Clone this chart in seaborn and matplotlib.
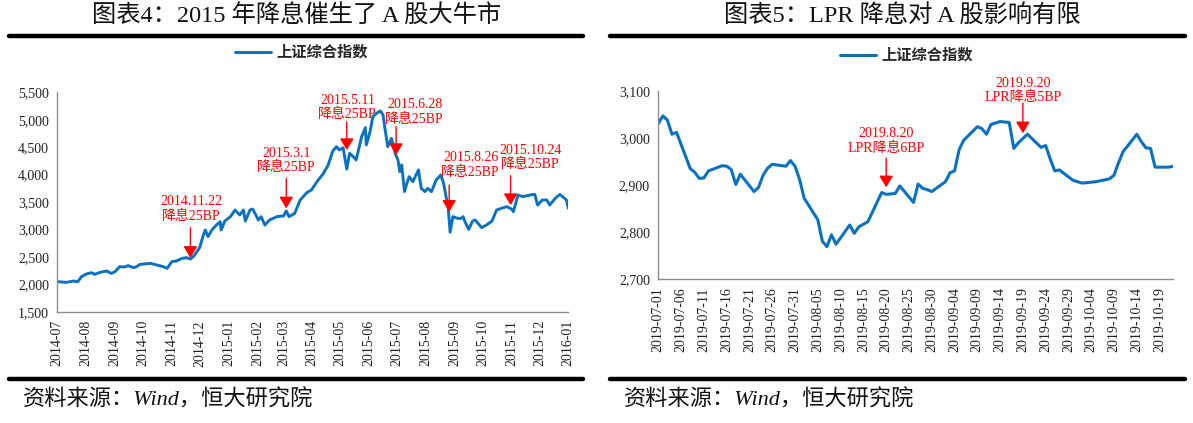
# 上证综指：2015 降息 vs 2019 LPR 降息

import pandas as pd
import matplotlib
matplotlib.use("Agg")
import matplotlib.pyplot as plt
import matplotlib.dates as mdates
import matplotlib.ticker as mticker
from matplotlib.lines import Line2D
import seaborn as sns

sns.set_style("white")
plt.rcParams["font.family"] = ["Liberation Serif", "Noto Sans CJK SC"]
plt.rcParams["axes.unicode_minus"] = False

# -----------------------------
# data
# -----------------------------
sh_2015_dates = [
    "2014-07-01", "2014-07-11", "2014-07-18", "2014-07-23", "2014-07-27", "2014-08-01",
    "2014-08-07", "2014-08-10", "2014-08-16", "2014-08-23", "2014-08-28", "2014-09-01",
    "2014-09-06", "2014-09-11", "2014-09-15", "2014-09-21", "2014-09-24", "2014-09-28",
    "2014-10-09", "2014-10-16", "2014-10-23", "2014-10-27", "2014-11-01", "2014-11-06",
    "2014-11-12", "2014-11-17", "2014-11-21", "2014-11-24", "2014-11-28", "2014-12-01",
    "2014-12-05", "2014-12-07", "2014-12-10", "2014-12-14", "2014-12-19", "2014-12-23",
    "2014-12-24", "2014-12-28", "2015-01-03", "2015-01-08", "2015-01-13", "2015-01-17",
    "2015-01-19", "2015-01-24", "2015-01-27", "2015-02-02", "2015-02-05", "2015-02-09",
    "2015-02-14", "2015-02-22", "2015-03-01", "2015-03-04", "2015-03-07", "2015-03-13",
    "2015-03-19", "2015-03-26", "2015-03-31", "2015-04-06", "2015-04-13", "2015-04-18",
    "2015-04-23", "2015-04-27", "2015-04-30", "2015-05-04", "2015-05-08", "2015-05-11",
    "2015-05-15", "2015-05-18", "2015-05-24", "2015-05-28", "2015-05-29", "2015-06-02",
    "2015-06-05", "2015-06-09", "2015-06-13", "2015-06-16", "2015-06-18", "2015-06-21",
    "2015-06-25", "2015-06-29", "2015-07-02", "2015-07-04", "2015-07-06", "2015-07-09",
    "2015-07-11", "2015-07-14", "2015-07-18", "2015-07-24", "2015-07-27", "2015-07-31",
    "2015-08-03", "2015-08-07", "2015-08-12", "2015-08-17", "2015-08-20", "2015-08-25",
    "2015-08-27", "2015-08-30", "2015-09-04", "2015-09-08", "2015-09-10", "2015-09-12",
    "2015-09-16", "2015-09-20", "2015-09-23", "2015-09-26", "2015-09-30", "2015-10-05",
    "2015-10-11", "2015-10-16", "2015-10-21", "2015-10-27", "2015-11-01", "2015-11-03",
    "2015-11-08", "2015-11-13", "2015-11-21", "2015-11-26", "2015-11-29", "2015-12-04",
    "2015-12-09", "2015-12-12", "2015-12-18", "2015-12-23", "2015-12-28", "2015-12-30",
    "2016-01-01",
]
sh_2015_close = [
    2047, 2035, 2059, 2047, 2138, 2187,
    2211, 2181, 2217, 2242, 2199, 2230,
    2321, 2315, 2339, 2302, 2321, 2363,
    2381, 2351, 2321, 2290, 2412, 2424,
    2473, 2485, 2460, 2503, 2594, 2670,
    2900, 2989, 2868, 2989, 3080, 3141,
    2989, 3153, 3233, 3354, 3263, 3354,
    3153, 3354, 3372, 3172, 3233, 3080,
    3172, 3233, 3245, 3336, 3233, 3293,
    3537, 3670, 3719, 3871, 4023, 4175,
    4430, 4509, 4448, 4490, 4100, 4387,
    4327, 4266, 4691, 4856, 4540, 4783,
    5056, 5117, 5160, 5087, 4843, 4509,
    4661, 4387, 4266, 4053, 4175, 3689,
    3810, 3962, 3871, 4084, 3749, 3689,
    3749, 3689, 3901, 3992, 3840, 3384,
    2950, 3233, 3202, 3202, 3233, 3141,
    3000, 3150, 3172, 3111, 3032, 3080,
    3153, 3354, 3384, 3415, 3372, 3324,
    3628, 3597, 3628, 3640, 3445, 3536,
    3536, 3445, 3567, 3640, 3567, 3536,
    3384,
]

# 2015 rate cuts: arrow date, arrow tip value, label
cut_2015_dates = ["2014-11-21", "2015-03-04", "2015-05-08", "2015-06-30", "2015-08-26", "2015-10-31"]
cut_2015_tips = [2481, 3383, 4447, 4356, 3321, 3443]
cut_2015_labels = ["2014.11.22\n降息25BP", "2015.3.1\n降息25BP", "2015.5.11\n降息25BP",
                   "2015.6.28\n降息25BP", "2015.8.26\n降息25BP", "2015.10.24\n降息25BP"]

lpr_dates = [
    "2019-07-01", "2019-07-02", "2019-07-03", "2019-07-04", "2019-07-05", "2019-07-08",
    "2019-07-09", "2019-07-10", "2019-07-11", "2019-07-12", "2019-07-15", "2019-07-16",
    "2019-07-17", "2019-07-18", "2019-07-19", "2019-07-22", "2019-07-23", "2019-07-24",
    "2019-07-25", "2019-07-26", "2019-07-29", "2019-07-30", "2019-07-31", "2019-08-01",
    "2019-08-02", "2019-08-05", "2019-08-06", "2019-08-07", "2019-08-08", "2019-08-09",
    "2019-08-12", "2019-08-13", "2019-08-14", "2019-08-16", "2019-08-19", "2019-08-20",
    "2019-08-21", "2019-08-22", "2019-08-23", "2019-08-26", "2019-08-27", "2019-08-28",
    "2019-08-29", "2019-08-30", "2019-09-02", "2019-09-03", "2019-09-04", "2019-09-05",
    "2019-09-06", "2019-09-09", "2019-09-10", "2019-09-11", "2019-09-12", "2019-09-14",
    "2019-09-16", "2019-09-17", "2019-09-18", "2019-09-20", "2019-09-23", "2019-09-24",
    "2019-09-25", "2019-09-26", "2019-09-27", "2019-09-30", "2019-10-02", "2019-10-05",
    "2019-10-08", "2019-10-09", "2019-10-10", "2019-10-11", "2019-10-14", "2019-10-15",
    "2019-10-16", "2019-10-17", "2019-10-18", "2019-10-21", "2019-10-22",
]
lpr_close = [
    3031, 3047, 3038, 3008, 3012, 2935,
    2927, 2914, 2915, 2930, 2941, 2940,
    2933, 2901, 2923, 2886, 2895, 2921,
    2936, 2944, 2940, 2952, 2940, 2912,
    2872, 2826, 2780, 2769, 2794, 2774,
    2815, 2797, 2811, 2822, 2884, 2880,
    2881, 2882, 2898, 2863, 2902, 2893,
    2890, 2886, 2907, 2926, 2930, 2975,
    2995, 3024, 3020, 3008, 3029, 3035,
    3033, 2978, 2990, 3008, 2980, 2984,
    2955, 2930, 2932, 2910, 2904, 2907,
    2913, 2921, 2948, 2971, 3008, 2992,
    2979, 2978, 2938, 2938, 2940,
]

cut_2019_dates = ["2019-08-20", "2019-09-19"]
cut_2019_tips = [2895, 3010]
cut_2019_labels = ["2019.8.20\nLPR降息6BP", "2019.9.20\nLPR降息5BP"]

df1 = pd.DataFrame({"date": pd.to_datetime(sh_2015_dates), "close": sh_2015_close})
df2 = pd.DataFrame({"date": pd.to_datetime(lpr_dates), "close": lpr_close})

# -----------------------------
# figure
# -----------------------------
W, H = 1193, 423
fig = plt.figure(figsize=(W / 100, H / 100), dpi=100)

BLUE = "#0a70c0"
GREY = "#8c8c8c"
cjk_serif = ["Liberation Serif", "Noto Sans CJK SC"]


def style_axis(ax):
    sns.despine(ax=ax)
    for s in ["left", "bottom"]:
        ax.spines[s].set_color(GREY)
        ax.spines[s].set_linewidth(1.0)
    ax.tick_params(axis="both", direction="out", length=4, width=1, color=GREY,
                   labelsize=10, labelcolor="#222222", pad=2)
    ax.yaxis.set_major_formatter(mticker.StrMethodFormatter("{x:,.0f}"))
    ax.grid(False)
    for lab in ax.get_xticklabels():
        lab.set_rotation(90)


def add_legend(ax, fx, fy):
    ax.legend(loc="center", bbox_to_anchor=(fx / W, 1 - fy / H), bbox_transform=fig.transFigure,
              frameon=False, handlelength=2.4, handletextpad=0.3,
              prop={"family": "Noto Sans CJK SC", "weight": "bold", "size": 11})


# ---- left: 2015
ax1 = fig.add_axes([57.3 / W, 1 - 311.7 / H, 511 / W, 219.4 / H])
sns.lineplot(data=df1, x="date", y="close", ax=ax1, color=BLUE, linewidth=2.1,
             label="上证综合指数")
ax1.set_xlim(pd.Timestamp("2014-07-01"), pd.Timestamp("2016-01-01"))
ax1.set_ylim(1500, 5500)
ax1.yaxis.set_major_locator(mticker.MultipleLocator(500))
ax1.xaxis.set_major_locator(mdates.MonthLocator())
ax1.xaxis.set_major_formatter(mdates.DateFormatter("%Y-%m"))
ax1.set_xlabel("")
ax1.set_ylabel("")
style_axis(ax1)
add_legend(ax1, 301, 52)

# label position (text date, text value) and arrow tail value
text_pos_2015 = [("2014-11-22", 3376, 3029), ("2015-03-04", 4255, 3930), ("2015-05-09", 5223, 4963),
                 ("2015-07-20", 5140, 4872), ("2015-09-18", 4173, 3808), ("2015-11-21", 4310, 3978)]
for d, tip, lab, (td, tv, tail) in zip(cut_2015_dates, cut_2015_tips, cut_2015_labels, text_pos_2015):
    x = pd.Timestamp(d)
    ax1.annotate("", xy=(x, tip), xytext=(x, tail),
                 arrowprops=dict(arrowstyle="-|>,head_length=0.5,head_width=0.3", color="#ff0000",
                                 lw=1, shrinkA=0, shrinkB=0, mutation_scale=14))
    ax1.text(pd.Timestamp(td), tv, lab, color="#ff0000", ha="center", va="center",
             fontsize=10, linespacing=1.15, family=cjk_serif)

# ---- right: 2019
ax2 = fig.add_axes([658.3 / W, 1 - 279 / H, 515 / W, 188 / H])
sns.lineplot(data=df2, x="date", y="close", ax=ax2, color=BLUE, linewidth=2.2,
             label="上证综合指数")
ax2.lines[0].set_solid_joinstyle("round")
ax2.set_xlim(pd.Timestamp("2019-07-01"), pd.Timestamp("2019-10-22"))
ax2.set_ylim(2700, 3100)
ax2.yaxis.set_major_locator(mticker.MultipleLocator(100))
ax2.set_xticks(pd.date_range("2019-07-01", "2019-10-19", freq="5D"))
ax2.xaxis.set_major_formatter(mdates.DateFormatter("%Y-%m-%d"))
ax2.set_xlabel("")
ax2.set_ylabel("")
style_axis(ax2)
add_legend(ax2, 906, 55)

text_pos_2019 = [("2019-08-20", 2993, 2957), ("2019-09-19", 3101, 3074)]
for d, tip, lab, (td, tv, tail) in zip(cut_2019_dates, cut_2019_tips, cut_2019_labels, text_pos_2019):
    x = pd.Timestamp(d)
    ax2.annotate("", xy=(x, tip), xytext=(x, tail),
                 arrowprops=dict(arrowstyle="-|>,head_length=0.5,head_width=0.3", color="#ff0000",
                                 lw=1, shrinkA=0, shrinkB=0, mutation_scale=14))
    ax2.text(pd.Timestamp(td), tv, lab, color="#ff0000", ha="center", va="center",
             fontsize=10, linespacing=1.15, family=cjk_serif)

# ---- titles, rules, source
for x0, x1, cx, title in [(9, 583, 297, "图表4：2015 年降息催生了 A 股大牛市"),
                          (610, 1185, 902, "图表5：LPR 降息对 A 股影响有限")]:
    fig.text(cx / W, 1 - 16 / H, title, ha="center", va="center", fontsize=17.5,
             color="#111111", family=cjk_serif)
    for y in (36, 379):
        fig.add_artist(Line2D([x0 / W, x1 / W], [1 - y / H, 1 - y / H], transform=fig.transFigure,
                              color="black", lw=3.2))
    fig.text((x0 + 14) / W, 1 - 400 / H, "资料来源：Wind，恒大研究院", ha="left", va="center",
             fontsize=16, style="italic", color="#111111", family=cjk_serif)

plt.savefig("out.png", dpi=100)
